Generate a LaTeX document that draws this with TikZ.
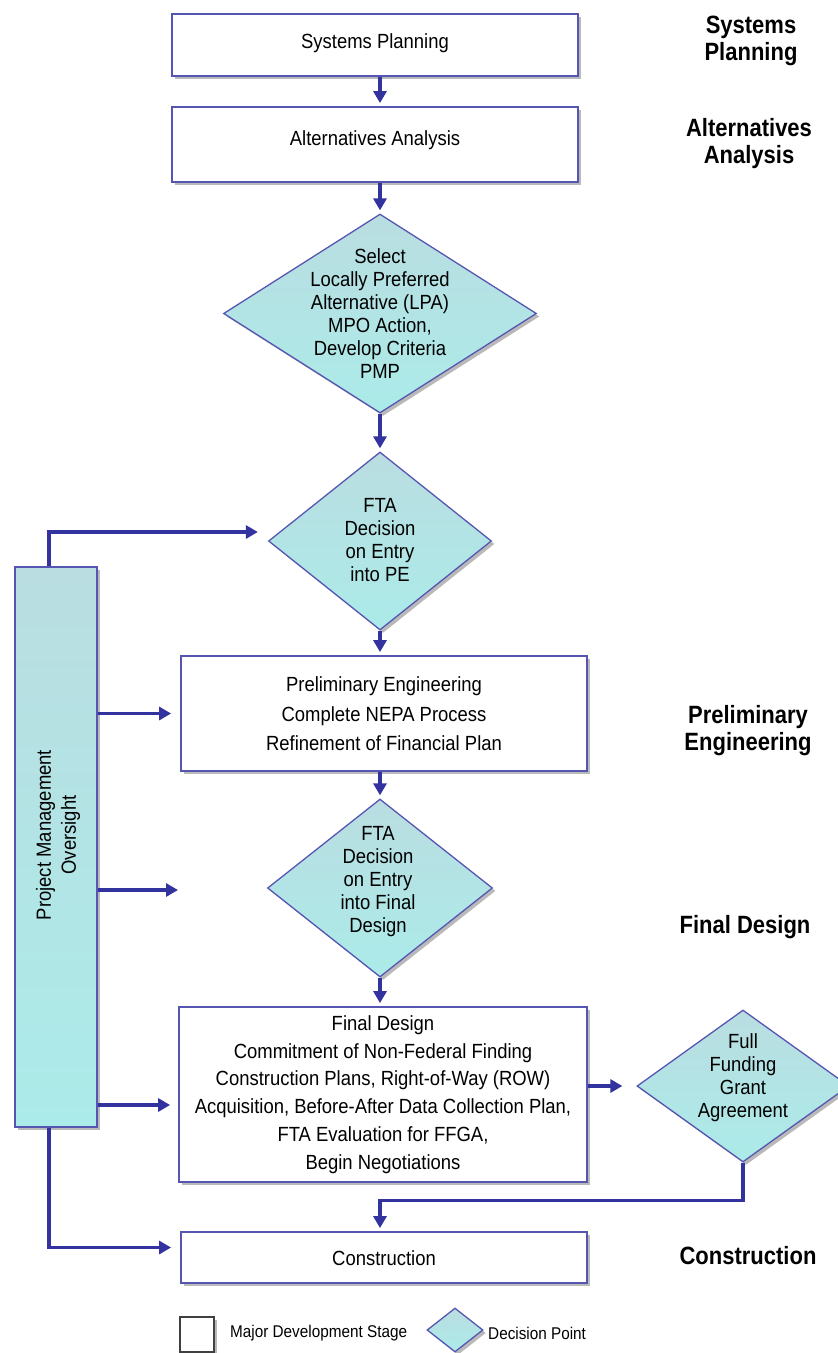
\documentclass[tikz,border=0pt]{standalone}
\usepackage{fontspec}
\setmainfont{Liberation Sans}
\newfontfamily\nf[FakeStretch=0.9]{Liberation Sans}
\newfontfamily\labf[FakeStretch=0.88]{Liberation Sans}
\usetikzlibrary{shapes.geometric,arrows.meta,shadows}
\definecolor{edgeblue}{HTML}{5656B2}
\definecolor{arrblue}{HTML}{3333A0}
\definecolor{tealA}{HTML}{BADDE1}
\definecolor{tealB}{HTML}{ABEBE9}
\begin{document}
\begin{tikzpicture}[x=1pt,y=-1pt,
  shad/.style={drop shadow={shadow xshift=3pt,shadow yshift=-3pt,fill=black!50,opacity=0.55}},
  stage/.style={draw=edgeblue,line width=1.8pt,fill=white,shad,inner sep=0pt},
  dec/.style={diamond,draw=edgeblue,line width=1.3pt,top color=tealA,bottom color=tealB,shad,inner sep=0pt},
  body/.style={font=\nf\fontsize{20.5}{23}\selectfont,align=center,inner sep=0pt},
  lab/.style={font=\labf\bfseries\fontsize{25}{27}\selectfont,align=center,inner sep=0pt},
  leg/.style={font=\nf\fontsize{17}{20}\selectfont,anchor=west,inner sep=0pt},
  flow/.style={draw=arrblue,line width=3.2pt,-{Triangle[length=12pt,width=13pt]},shorten >=3pt}
]
\clip (0,0) rectangle (838,1353);
\fill[white] (0,0) rectangle (838,1353);

% main stages
\node[stage,minimum width=406pt,minimum height=62pt] (sp) at (375,45) {};
\node[body] (spt) at (375,43) {Systems Planning};
\node[stage,minimum width=406pt,minimum height=75pt] (aa) at (375,144.5) {};
\node[body] (aat) at (375,140) {Alternatives Analysis};

\node[dec,minimum width=313pt,minimum height=199pt] (d1) at (380,313.5) {};
\node[body] (d1t) at (380,314) {Select\\Locally Preferred\\Alternative (LPA)\\MPO Action,\\Develop Criteria\\PMP};

\node[dec,minimum width=223pt,minimum height=178pt] (d2) at (380,541) {};
\node[body] (d2t) at (380,540) {FTA\\Decision\\on Entry\\into PE};

\node[stage,minimum width=406pt,minimum height=115pt] (pe) at (384,713.5) {};
\node[body,font=\nf\fontsize{20.5}{29.5}\selectfont] (pet) at (384,714) {Preliminary Engineering\\Complete NEPA Process\\Refinement of Financial Plan};

\node[dec,minimum width=225pt,minimum height=178pt] (d3) at (380,888) {};
\node[body] (d3t) at (378,882) {FTA\\Decision\\on Entry\\into Final\\Design};

\node[stage,minimum width=408pt,minimum height=175pt] (fd) at (383,1094.5) {};
\node[body,font=\nf\fontsize{20.5}{27.8}\selectfont] (fdt) at (383,1094.5) {Final Design\\Commitment of Non-Federal Finding\\Construction Plans, Right-of-Way (ROW)\\Acquisition, Before-After Data Collection Plan,\\FTA Evaluation for FFGA,\\Begin Negotiations};

\node[dec,minimum width=212pt,minimum height=152pt] (d4) at (743,1086) {};
\node[body] (d4t) at (743,1078) {Full\\Funding\\Grant\\Agreement};

\node[stage,minimum width=406pt,minimum height=51pt] (con) at (384,1257.5) {};
\node[body] (cont) at (384,1258) {Construction};

% project management oversight
\node[draw=edgeblue,line width=1.8pt,top color=tealA,bottom color=tealB,shad,minimum width=82pt,minimum height=560pt,inner sep=0pt] (pmo) at (56,847) {};
\node[body,font=\nf\fontsize{20.5}{25}\selectfont,rotate=90] (pmot) at (58,835) {Project Management\\Oversight};

% stage labels
\node[lab] (l1) at (751,41) {Systems\\Planning};
\node[lab] (l2) at (749,144) {Alternatives\\Analysis};
\node[lab] (l3) at (748,731) {Preliminary\\Engineering};
\node[lab] (l4) at (745,927) {Final Design};
\node[lab] (l5) at (748,1256) {Construction};

% main flow
\draw[flow] (sp.south -| d1.north) -- (aa.north -| d1.north);
\draw[flow] (aa.south -| d1.north) -- (d1.north);
\draw[flow] (d1.south) -- (d2.north);
\draw[flow] (d2.south) -- (d2.south |- pe.north);
\draw[flow] (pe.south -| d3.north) -- (d3.north);
\draw[flow] (d3.south) -- (d3.south |- fd.north);
\draw[flow,shorten >=14pt] (fd.east |- d4.west) -- (d4.west);
\draw[flow] (d4.south) -- ++(0,38) -| (con.north -| d1.south);

% oversight arrows
\coordinate (px) at (49,0);
\coordinate (d3in) at (178,890);
\draw[flow,shorten >=0pt] (px |- pmo.north) |- ([xshift=-10pt,yshift=9pt]d2.west);
\draw[flow,shorten >=9pt] (pmo.east |- pe.west) -- (pe.west);
\draw[flow,shorten >=0pt] (pmo.east |- d3in) -- (d3in);
\draw[flow,shorten >=8pt] (pmo.east |- 0,1105) -- (fd.west |- 0,1105);
\draw[flow,shorten >=9pt] (px |- pmo.south) |- ([yshift=10pt]con.west);

% legend
\node[draw=black!75,line width=1.2pt,fill=white,shad,minimum width=34pt,minimum height=35pt,inner sep=0pt] (lgbox) at (197,1334.5) {};
\node[leg] (lgboxt) at (230,1333) {Major Development Stage};
\node[dec,minimum width=56pt,minimum height=44pt] (lgdec) at (455,1330) {};
\node[leg] (lgdect) at (488,1333) {Decision Point};
\end{tikzpicture}
\end{document}
